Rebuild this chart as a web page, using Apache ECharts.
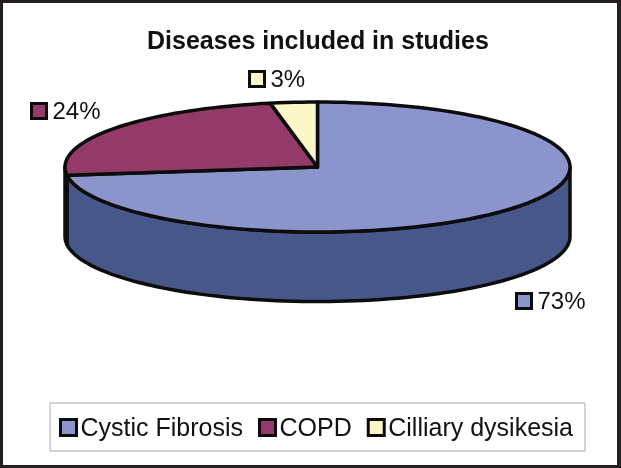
<!DOCTYPE html>
<html>
<head>
<meta charset="utf-8">
<title>Diseases included in studies</title>
<script src="https://cdn.jsdelivr.net/npm/echarts@6/dist/echarts.min.js"></script>
<style>
    html, body { margin: 0; padding: 0; background: #231f20; }
    #chart { width: 621px; height: 468px; }
</style>
</head>
<body>
<div id="chart"></div>
<script>
var categories = ['Cystic Fibrosis', 'COPD', 'Cilliary dysikesia'];
var values = [73, 24, 3];
var percentLabels = ['73%', '24%', '3%'];

var topColors = ['#8c95cb', '#943a68', '#fbf7c8'];
var sideColors = ['#47578a', '#4a1d34', '#7d7b64'];
// top left corner of the little square next to each percent label
var labelSpots = [[516.5, 293.5], [31.5, 103.5], [249.5, 71.5]];

var EDGE = '#0c0c0c';
var DEPTH = 1.07; // height of the cake, in y axis units
var total = values.reduce(function (a, b) { return a + b; }, 0);

// clockwise from 12 o'clock, x and y on the unit circle
function rim(deg) {
    var r = deg * Math.PI / 180;
    return [Math.sin(r), Math.cos(r)];
}

function arc(from, to) {
    var pts = [];
    var n = Math.max(2, Math.ceil(Math.abs(to - from) / 2));
    for (var i = 0; i <= n; i++) {
        pts.push(rim(from + (to - from) * i / n));
    }
    return pts;
}

function sliceRenderer(index) {
    var before = values.slice(0, index).reduce(function (a, b) { return a + b; }, 0);
    var start = before / total * 360;
    var end = (before + values[index]) / total * 360;

    return function (params, api) {
        var children = [];

        // side wall, only the front half of the rim shows
        var a = Math.max(start, 90);
        var b = Math.min(end, 270);
        if (b > a) {
            var upper = arc(a, b);
            var lower = arc(b, a).map(function (p) { return [p[0], p[1] - DEPTH]; });
            children.push({
                type: 'polygon',
                shape: { points: upper.concat(lower).map(function (p) { return api.coord(p); }) },
                style: { fill: sideColors[index], stroke: EDGE, lineWidth: 3.5, lineJoin: 'round' }
            });
        }

        // top face
        var face = [[0, 0]].concat(arc(start, end));
        children.push({
            type: 'polygon',
            shape: { points: face.map(function (p) { return api.coord(p); }) },
            style: { fill: topColors[index], stroke: EDGE, lineWidth: 3.5, lineJoin: 'round' }
        });

        // percent label
        var spot = labelSpots[index];
        children.push({
            type: 'rect',
            shape: { x: spot[0], y: spot[1], width: 15, height: 15 },
            style: { fill: topColors[index], stroke: EDGE, lineWidth: 3 }
        });
        children.push({
            type: 'text',
            style: {
                x: spot[0] + 21,
                y: spot[1] + 9,
                text: percentLabels[index],
                fill: '#111',
                font: '24px "Liberation Sans", Arial, sans-serif',
                verticalAlign: 'middle'
            }
        });

        return { type: 'group', children: children };
    };
}

var chart = echarts.init(document.getElementById('chart'));

chart.setOption({
    animation: false,
    backgroundColor: '#231f20',
    graphic: [{
        type: 'rect',
        z: -10,
        shape: { x: 3, y: 3, width: 614, height: 462 },
        style: { fill: '#fff' }
    }],
    title: {
        text: 'Diseases included in studies',
        left: 147,
        top: 30,
        padding: 0,
        textStyle: {
            fontFamily: '"Liberation Sans", Arial, sans-serif',
            fontWeight: 'bold',
            fontSize: 25,
            color: '#111'
        }
    },
    legend: {
        left: 50,
        top: 403,
        orient: 'horizontal',
        padding: [14, 12, 9, 9],
        itemGap: 15,
        itemWidth: 16,
        itemHeight: 16,
        icon: 'rect',
        borderColor: '#a9a9a9',
        borderWidth: 1,
        backgroundColor: '#fff',
        data: categories,
        selectedMode: false,
        itemStyle: { borderColor: EDGE, borderWidth: 3 },
        formatter: '{n|{name}}',
        textStyle: {
            color: '#111',
            padding: [0, 0, 0, -1],
            rich: {
                n: {
                    fontFamily: '"Liberation Sans", Arial, sans-serif',
                    fontSize: 25,
                    color: '#111',
                    padding: [4, 0, 0, 0]
                }
            }
        }
    },
    grid: { left: 65, top: 102, width: 505, height: 130 },
    xAxis: { type: 'value', min: -1, max: 1, show: false },
    yAxis: { type: 'value', min: -1, max: 1, show: false },
    series: categories.map(function (name, i) {
        return {
            name: name,
            type: 'custom',
            coordinateSystem: 'cartesian2d',
            clip: false,
            silent: true,
            itemStyle: { color: topColors[i] },
            renderItem: sliceRenderer(i),
            data: [{ name: name, value: [0, 0, values[i]] }]
        };
    })
});
</script>
</body>
</html>
